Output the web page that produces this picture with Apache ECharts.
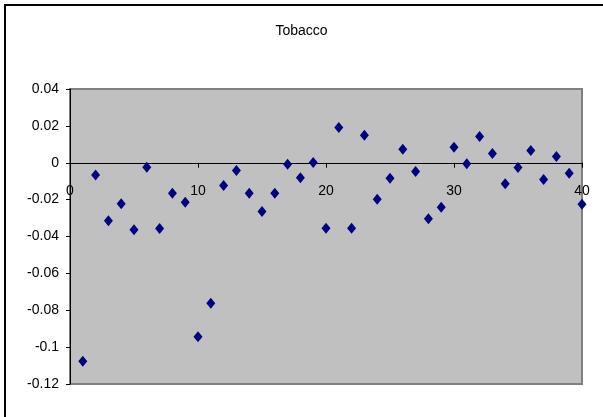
<!DOCTYPE html>
<html>
<head>
<meta charset="utf-8">
<script src="https://cdn.jsdelivr.net/npm/echarts@6/dist/echarts.min.js"></script>
<style>
  html, body { margin: 0; padding: 0; background: #fff; }
  #chart { width: 603px; height: 417px; }
</style>
</head>
<body>
<div id="chart"></div>
<script>
// Observation index (1..40) and the Tobacco values
const periods = [1,2,3,4,5,6,7,8,9,10,11,12,13,14,15,16,17,18,19,20,
                 21,22,23,24,25,26,27,28,29,30,31,32,33,34,35,36,37,38,39,40];
const tobacco = [-0.1076,-0.0066,-0.0314,-0.0223,-0.0364,-0.0024,-0.0357,-0.0165,-0.0214,-0.0944,
                 -0.0762,-0.0124,-0.0042,-0.0165,-0.0264,-0.0165,-0.0008,-0.0082,0.0001,-0.0355,
                 0.0191,-0.0355,0.0149,-0.0198,-0.0084,0.0073,-0.0048,-0.0304,-0.0241,0.0084,
                 -0.0006,0.0142,0.0050,-0.0114,-0.0026,0.0066,-0.0091,0.0034,-0.0057,-0.0225];

const Y_MIN = -0.12, Y_MAX = 0.04;
const W = 603, H = 417;
const gridBox = { left: 70, top: 89, right: 21, bottom: 33 };
const plotH = H - gridBox.top - gridBox.bottom;
// Lift the x axis (line, ticks, labels) from the plot bottom up to y = 0
const zeroOffset = -plotH * (0 - Y_MIN) / (Y_MAX - Y_MIN);

const chart = echarts.init(document.getElementById('chart'), null, { renderer: 'canvas' });
const font = 'Liberation Sans, Arial, sans-serif';

chart.setOption({
  animation: false,
  backgroundColor: '#ffffff',
  title: {
    text: 'Tobacco',
    left: 'center',
    top: 19,
    textStyle: { fontFamily: font, fontSize: 14, fontWeight: 'normal', color: '#000' }
  },
  graphic: [{
    type: 'rect',
    shape: { x: 5, y: 5, width: 700, height: 600 },
    style: { fill: 'none', stroke: '#000', lineWidth: 2 },
    silent: true
  }],
  grid: {
    left: gridBox.left, top: gridBox.top, right: gridBox.right, bottom: gridBox.bottom,
    show: true,
    backgroundColor: '#C0C0C0',
    borderColor: '#808080',
    borderWidth: 2
  },
  xAxis: {
    type: 'value',
    min: 0, max: 40, interval: 10,
    position: 'bottom',
    offset: zeroOffset,
    axisLine: { onZero: false, lineStyle: { color: '#000', width: 1 } },
    axisTick: { show: true, length: 5, lineStyle: { color: '#000' } },
    axisLabel: { fontFamily: font, fontSize: 14, color: '#000', margin: 21 },
    splitLine: { show: false }
  },
  yAxis: {
    type: 'value',
    min: Y_MIN, max: Y_MAX, interval: 0.02,
    axisLine: { show: true, onZero: false, lineStyle: { color: '#000', width: 1 } },
    axisTick: { show: true, length: 4, lineStyle: { color: '#000' } },
    axisLabel: {
      fontFamily: font, fontSize: 14, color: '#000', margin: 11,
      formatter: v => String(parseFloat(v.toFixed(4)))
    },
    splitLine: { show: false }
  },
  series: [{
    type: 'scatter',
    symbol: 'diamond',
    symbolSize: [9, 11],
    itemStyle: { color: '#000080', opacity: 1 },
    data: periods.map((p, i) => [p, tobacco[i]])
  }]
});
</script>
</body>
</html>
